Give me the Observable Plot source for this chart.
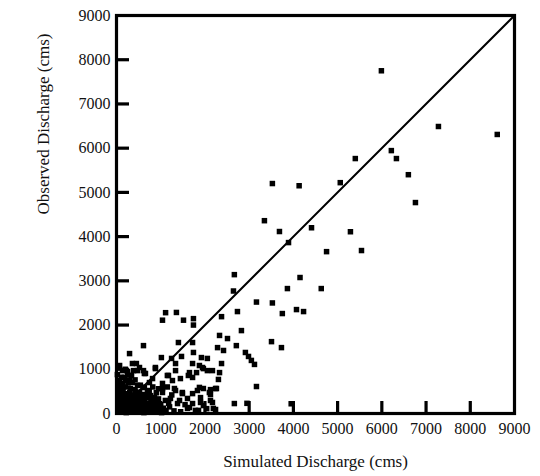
<!DOCTYPE html>
<html><head><meta charset="utf-8">
<script src="https://cdn.jsdelivr.net/npm/d3@7"></script>
<script src="https://cdn.jsdelivr.net/npm/@observablehq/plot@0.6"></script>
<style>html,body{margin:0;padding:0;background:#fff}</style>
</head><body><div id="chart"></div>
<script>
// Simulated (x) and observed (y) discharge, cms
const simulated = [
  5990,7280,8610,6215,6330,5400,6600,5060,4130,3525,6760,4410,5290,4750,5540,3345,3685,3890,4150,4630,
  3865,4230,4070,3750,3525,3165,2665,2645,2735,2375,1110,1355,1040,1515,1740,1740,
  2330,2510,2825,2710,3505,3730,2285,2420,2915,2985,3050,3120,2375,2330,2305,2260,3165,2240,2665,2950,3950,2125,
  610,1400,1720,295,1015,1245,1470,1740,1920,2055,1335,1720,450,520,610,630,385,135,250,880,1175,1265,1445,1810,
  1965,1875,2055,1625,1720,745,205,135,475,610,1040,1040,1335,1490,1830,1965,2125,2240,315,135,385,770,1220,1605,
  1900,2125,925,1380,1720,1965,1605,1855,2190,
  70,360,880,475,655,180,70,360,815,1150,1335,1650,1945,2170,1040,630,1310,1490,1875,2100,1720,180,430,860,1105,
  1425,1900,2170,1650,1785,2040,
  30,120,220,320,420,520,620,720,820,920,1020,1120,40,140,240,340,440,540,640,740,840,960,1060,
  30,130,230,330,430,530,630,730,830,60,160,260,360,460,560,680,90,200,300,520,740,900,1200,1300,1450,1550,1250,1150,
  80,180,280,380,480,580,680,780,880,980,80,180,280,380,480,580,680,780,880,
  100,200,300,400,500,600,780,950,50,150,250,420,600,700,820,950,110,250,300,60,200,
  690,880,1000,1080,1180,360,480,560,40,150,260,20,340,420,540,990
];
const observed = [
  7750,6490,6310,5945,5765,5765,5400,5220,5150,5200,4770,4200,4110,3660,3685,4360,4115,3865,3075,2825,
  2825,2305,2350,2260,2500,2520,3140,2770,2305,2190,2280,2285,2110,2110,2145,2000,
  1765,1695,1875,1535,1625,1490,1490,1425,1380,1290,1200,1110,1130,925,770,565,610,90,225,230,220,430,
  1535,1605,1605,1355,1265,1245,1290,1380,1265,1245,1130,1130,1130,1040,970,905,970,970,950,1015,860,745,790,925,
  1015,1085,970,860,815,700,745,680,635,590,565,475,520,450,520,565,540,565,565,450,405,405,340,340,
  360,295,250,225,225,180,115,70,115,
  1085,1130,1040,970,905,815,745,700,790,860,970,925,1040,970,680,590,565,475,590,475,450,450,475,360,295,
  295,250,250,135,70,110,
  30,40,20,60,30,50,20,60,30,40,20,50,140,160,130,150,120,170,140,110,160,130,120,
  250,270,240,280,250,230,270,220,250,360,340,380,330,360,320,350,560,600,470,480,520,470,150,60,40,200,420,600,
  90,90,100,90,100,90,100,90,100,80,200,210,190,200,190,200,190,200,200,
  310,300,320,300,290,300,310,330,470,500,420,540,430,470,600,560,820,880,760,650,1000,
  420,260,200,70,230,420,440,400,560,380,690,880,860,760,640,150
];
const tickValues = [0,1000,2000,3000,4000,5000,6000,7000,8000,9000];
const innerTicks = [1000,2000,3000,4000,5000,6000,7000,8000];
const oneToOne = [0, 9000];
const xTitle = "Simulated Discharge (cms)";
const yTitle = "Observed Discharge (cms)";

const points = simulated.map((x, i) => ({x, y: observed[i]}));
const W = 540, H = 476, ML = 116, MR = 26, MT = 15, MB = 63;
const innerW = W - ML - MR, innerH = H - MT - MB;

const chart = Plot.plot({
  width: W, height: H,
  marginLeft: ML, marginRight: MR, marginTop: MT, marginBottom: MB,
  x: {domain: [0, 9000], axis: null},
  y: {domain: [0, 9000], axis: null},
  style: {fontFamily: "'Liberation Serif', 'DejaVu Serif', serif", fontSize: "16px", color: "#111", background: "#fff"},
  marks: [
    Plot.line(oneToOne, {x: d => d, y: d => d, stroke: "#000", strokeWidth: 2}),
    Plot.dot(points, {x: "x", y: "y", symbol: "square", r: 3.1, fill: "#000", stroke: null}),
    Plot.tickY(innerTicks, {y: d => d, insetRight: innerW - 13, stroke: "#000", strokeWidth: 3.2}),
    Plot.tickX(innerTicks, {x: d => d, insetTop: innerH - 12, stroke: "#000", strokeWidth: 3.2}),
    Plot.frame({stroke: "#000", strokeWidth: 3.2}),
    Plot.axisX(tickValues, {tickSize: 0, tickPadding: 9, fontSize: 16, tickFormat: d => String(d), label: null}),
    Plot.axisY(tickValues, {tickSize: 0, tickPadding: 6, fontSize: 16, tickFormat: d => String(d), label: null}),
    Plot.text([xTitle], {text: d => d, frameAnchor: "bottom", dy: 53, fontSize: 17, fill: "#111"}),
    Plot.text([yTitle], {text: d => d, frameAnchor: "left", dx: -73, rotate: -90, fontSize: 17, fill: "#111"})
  ]
});
document.getElementById("chart").appendChild(chart);
</script>
</body></html>
